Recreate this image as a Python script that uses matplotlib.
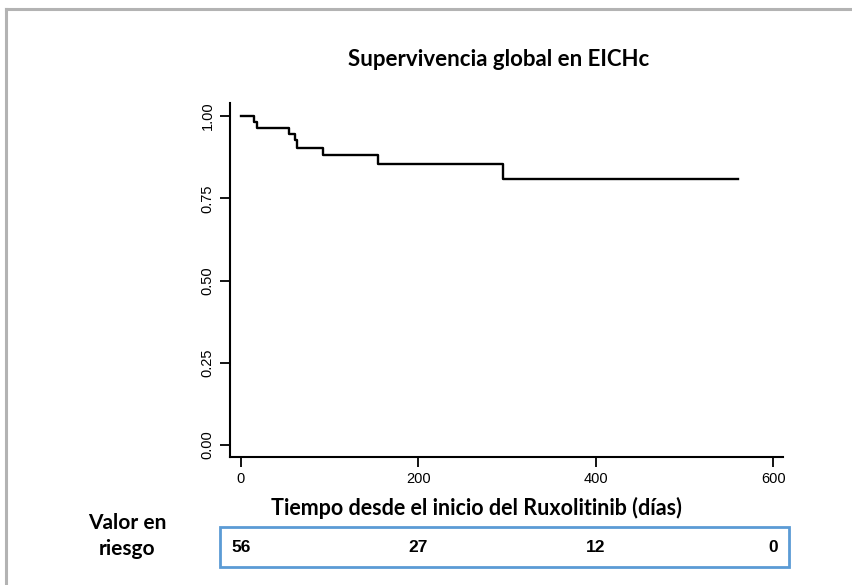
import matplotlib
matplotlib.use("Agg")
import matplotlib.pyplot as plt
from matplotlib.lines import Line2D
from matplotlib.patches import Rectangle
from matplotlib.transforms import blended_transform_factory

# Kaplan-Meier estimate: event times (days) and survival after each step
times = [0, 15, 18, 54, 61, 63, 93, 155, 295, 560]
survival = [1.0, 0.982, 0.964, 0.946, 0.928, 0.903, 0.881, 0.853, 0.809, 0.809]

x_ticks = [0, 200, 400, 600]
y_ticks = [0.0, 0.25, 0.5, 0.75, 1.0]
y_tick_labels = ["0.00", "0.25", "0.50", "0.75", "1.00"]
at_risk = [56, 27, 12, 0]

title = "Supervivencia global en EICHc"
x_label = "Tiempo desde el inicio del Ruxolitinib (días)"
risk_label = "Valor en\nriesgo"

W, H = 852, 585
fig = plt.figure(figsize=(W / 100, H / 100), dpi=100)
fig.patch.set_facecolor("white")

# outer frame (top and left edges)
fig.add_artist(Line2D([6 / W, 1.0], [1 - 8.5 / H, 1 - 8.5 / H], transform=fig.transFigure,
                      color="#b3b3b3", lw=2.2))
fig.add_artist(Line2D([6 / W, 6 / W], [0.0, 1 - 8.5 / H], transform=fig.transFigure,
                      color="#b3b3b3", lw=2.2))

left, right, top, bottom = 230, 783, 103, 456.7
ax = fig.add_axes([left / W, 1 - bottom / H, (right - left) / W, (bottom - top) / H])
ax.step(times, survival, where="post", color="black", lw=1.7)

ax.set_xlim(-12.4, 611)
ax.set_ylim(-0.036, 1.04)
ax.spines["top"].set_visible(False)
ax.spines["right"].set_visible(False)
for s in ("left", "bottom"):
    ax.spines[s].set_linewidth(1.5)
ax.set_xticks(x_ticks)
ax.set_xticklabels([str(t) for t in x_ticks], fontfamily="Liberation Sans", fontsize=10.5)
ax.set_yticks(y_ticks)
ax.set_yticklabels(y_tick_labels, fontfamily="Liberation Sans", fontsize=10.5,
                   rotation=90, va="center")
ax.tick_params(axis="both", direction="out", length=7, width=1.3, pad=4)

fig.text(499 / W, 1 - 60 / H, title, ha="center", va="center",
         fontfamily="Lato", fontweight="bold", fontsize=16)
fig.text(476 / W, 1 - 508 / H, x_label, ha="center", va="center",
         fontfamily="Lato", fontweight="bold", fontsize=15.5)
fig.text(127 / W, 1 - 536 / H, risk_label, ha="center", va="center",
         fontfamily="Lato", fontweight="bold", fontsize=15, linespacing=1.35)

# number-at-risk table
fig.add_artist(Rectangle((220 / W, 1 - 567 / H), (789 - 220) / W, 40 / H,
                         transform=fig.transFigure, fill=False,
                         edgecolor="#5b9bd5", lw=2))
trans = blended_transform_factory(ax.transData, fig.transFigure)
for t, n in zip(x_ticks, at_risk):
    ax.text(t, 1 - 548 / H, str(n), transform=trans, ha="center", va="center",
            fontfamily="Liberation Sans", fontweight="bold", fontsize=12.5, clip_on=False)

fig.savefig("out.png", dpi=100)
